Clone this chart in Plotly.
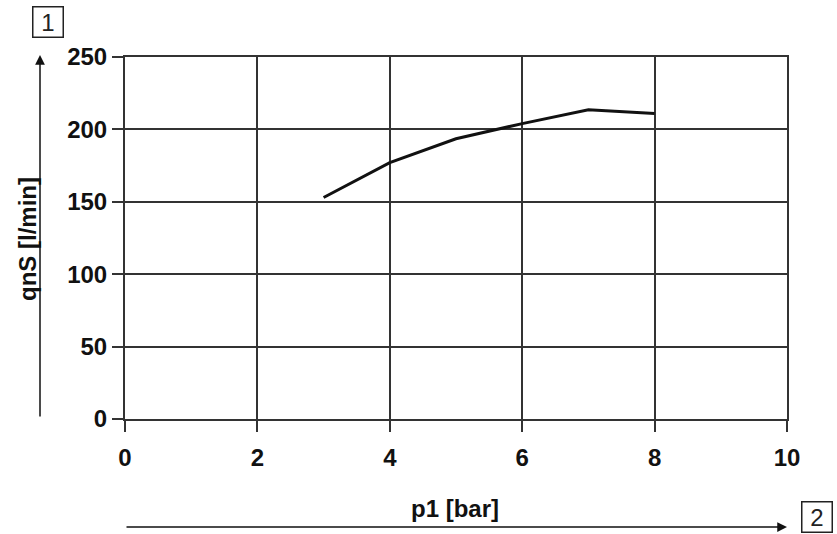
import plotly.graph_objects as go

p1_bar = [3, 4, 5, 6, 7, 8]
qns_lmin = [153, 177, 193.5, 204, 213.5, 211]

x_ticks = [0, 2, 4, 6, 8, 10]
y_ticks = [0, 50, 100, 150, 200, 250]

grid_color = "#333333"
font_family = "Liberation Sans, Arial, sans-serif"

fig = go.Figure()
fig.add_trace(go.Scatter(
    x=p1_bar, y=qns_lmin, mode="lines",
    line=dict(color="#111111", width=3),
    showlegend=False, hoverinfo="skip",
))

axis_common = dict(
    showgrid=True, gridcolor=grid_color, gridwidth=2,
    showline=True, linecolor=grid_color, linewidth=2, mirror=True,
    ticks="outside", ticklen=11, tickwidth=2, tickcolor=grid_color,
    zeroline=False,
    tickfont=dict(family=font_family, size=24, color="#111111"),
)

fig.update_xaxes(range=[0, 10], tickvals=x_ticks,
                 ticktext=[f"<b>{v}</b>" for v in x_ticks],
                 ticklabelstandoff=5, **axis_common)
fig.update_yaxes(range=[0, 250], tickvals=y_ticks,
                 ticktext=[f"<b>{v}</b>" for v in y_ticks], **axis_common)

W, H = 837, 534
L, R, T, B = 125, 50, 57, 115
pw, ph = W - L - R, H - T - B

def px(xp):
    return (xp - L) / pw

def py(yp):
    return (H - B - yp) / ph

title_font = dict(family=font_family, size=24, color="#111111")

annotations = [
    # axis titles
    dict(text="<b>p1 [bar]</b>", x=px(455), y=py(509), xref="paper", yref="paper",
         showarrow=False, font=title_font, xanchor="center", yanchor="middle"),
    dict(text="<b>qnS [l/min]</b>", x=px(28), y=py(239), xref="paper", yref="paper",
         showarrow=False, font=title_font, textangle=-90, xanchor="center", yanchor="middle"),
    # arrows
    dict(x=px(40), y=py(55), xref="paper", yref="paper", ax=0, ay=363,
         showarrow=True, arrowhead=2, arrowsize=1.3, arrowwidth=1.5, arrowcolor="#111111", text=""),
    dict(x=px(787), y=py(527), xref="paper", yref="paper", ax=-662, ay=0,
         showarrow=True, arrowhead=2, arrowsize=1.3, arrowwidth=1.5, arrowcolor="#111111", text=""),
    # boxed labels
    dict(text="1", x=px(47.5), y=py(22), xref="paper", yref="paper", showarrow=False,
         font=dict(family=font_family, size=24, color="#222222"),
         bordercolor="#222222", borderwidth=1.5, borderpad=1, width=27, height=27,
         xanchor="center", yanchor="middle"),
    dict(text="2", x=px(817), y=py(517), xref="paper", yref="paper", showarrow=False,
         font=dict(family=font_family, size=24, color="#222222"),
         bordercolor="#222222", borderwidth=1.5, borderpad=1, width=27, height=27,
         xanchor="center", yanchor="middle"),
]

fig.update_layout(
    width=W, height=H,
    margin=dict(l=L, r=R, t=T, b=B),
    paper_bgcolor="white", plot_bgcolor="white",
    font=dict(family=font_family, color="#111111"),
    annotations=annotations,
)

fig.write_html("out.html")
